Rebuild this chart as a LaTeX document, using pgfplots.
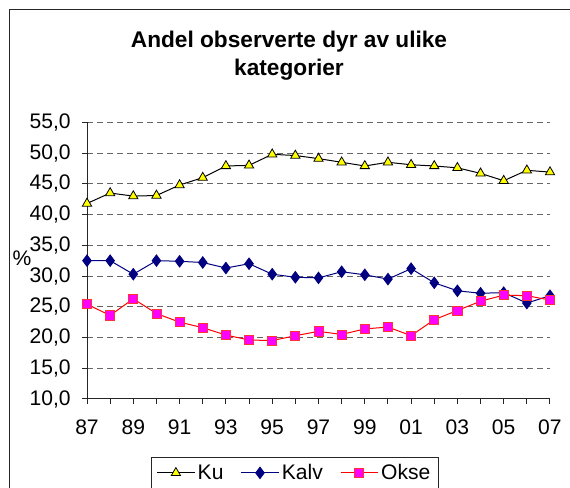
\documentclass[border=0pt]{standalone}
\usepackage{fontspec}
\setmainfont{Liberation Sans}
\usepackage{pgfplots}
\pgfplotsset{compat=1.18}

\definecolor{kuyellow}{RGB}{255,255,0}
\definecolor{kalvblue}{RGB}{0,0,128}
\definecolor{oksepink}{RGB}{255,0,255}

\newcommand{\chartfont}{\fontsize{15.8}{18}\selectfont}
\newcommand{\titlefont}{\fontsize{17}{20}\selectfont\bfseries}

\begin{document}
\begin{tikzpicture}[x=0.75pt,y=0.75pt]
\useasboundingbox (0,0) rectangle (570,488);
\clip (0,0) rectangle (570,488);
\draw[line width=0.75pt, black!85] (9,-20) -- (9,478) -- (600,478);

\node[anchor=base, font=\titlefont] at (289,440.7) {Andel observerte dyr av ulike};
\node[anchor=base, font=\titlefont] at (289,412.3) {kategorier};
\node[font=\chartfont] at (22,230) {\%};

\coordinate (ll) at (87,89);
\begin{axis}[
  at={(ll)}, anchor=south west,
  scale only axis,
  width=347.25pt, height=207.5pt,
  xmin=1987, xmax=2007,
  ymin=10, ymax=55,
  axis x line*=bottom, axis y line*=left,
  axis line style={line width=0.75pt, black!85, -},
  xtick={1987,...,2007},
  xticklabels={87,,89,,91,,93,,95,,97,,99,,01,,03,,05,,07},
  ytick={10,15,...,55},
  yticklabel style={xshift=-5pt, /pgf/number format/.cd, fixed, fixed zerofill, precision=1, use comma},
  xticklabel style={yshift=-8pt},
  /pgf/number format/assume math mode=true,
  tick align=outside,
  major tick length=3.75pt,
  tick style={line width=0.75pt, black!85},
  tick label style={font=\chartfont},
  ymajorgrids,
  grid style={dash pattern=on 4.5pt off 3pt, line width=0.75pt, black!60},
  legend columns=3,
  legend style={at={(0.138,-0.21)}, anchor=north west, draw=black!85,
    line width=0.75pt, font=\chartfont, inner xsep=4pt, inner ysep=3pt,
    /tikz/every even column/.append style={column sep=11pt}},
  legend image code/.code={%
    \draw[mark repeat=2, mark phase=2] plot coordinates {(0pt,0pt) (14pt,0pt) (28pt,0pt)};},
  clip=false,
]
\addplot[line width=0.75pt, black, mark=triangle*, mark size=4pt,
  mark options={fill=kuyellow, draw=black, line width=0.6pt}] coordinates {
  (1987,41.8) (1988,43.5) (1989,43.0) (1990,43.1) (1991,44.8) (1992,46.0)
  (1993,47.9) (1994,48.0) (1995,49.8) (1996,49.6) (1997,49.1) (1998,48.5)
  (1999,47.9) (2000,48.5) (2001,48.1) (2002,47.9) (2003,47.6) (2004,46.7)
  (2005,45.5) (2006,47.2) (2007,46.9)
};
\addlegendentry{Ku}
\addplot[line width=0.75pt, kalvblue, mark=diamond*, mark size=4.2pt,
  mark options={fill=kalvblue, draw=kalvblue}] coordinates {
  (1987,32.5) (1988,32.5) (1989,30.3) (1990,32.5) (1991,32.4) (1992,32.2)
  (1993,31.3) (1994,32.0) (1995,30.3) (1996,29.8) (1997,29.7) (1998,30.7)
  (1999,30.2) (2000,29.5) (2001,31.2) (2002,28.9) (2003,27.6) (2004,27.2)
  (2005,27.3) (2006,25.6) (2007,26.8)
};
\addlegendentry{Kalv}
\addplot[line width=0.75pt, red, mark=square*, mark size=3.4pt,
  mark options={fill=oksepink, draw=red!80, line width=0.6pt}] coordinates {
  (1987,25.4) (1988,23.6) (1989,26.3) (1990,23.9) (1991,22.5) (1992,21.6)
  (1993,20.4) (1994,19.6) (1995,19.5) (1996,20.3) (1997,21.0) (1998,20.5)
  (1999,21.4) (2000,21.7) (2001,20.3) (2002,22.9) (2003,24.4) (2004,25.9)
  (2005,26.9) (2006,26.8) (2007,26.1)
};
\addlegendentry{Okse}
\end{axis}
\end{tikzpicture}
\end{document}
